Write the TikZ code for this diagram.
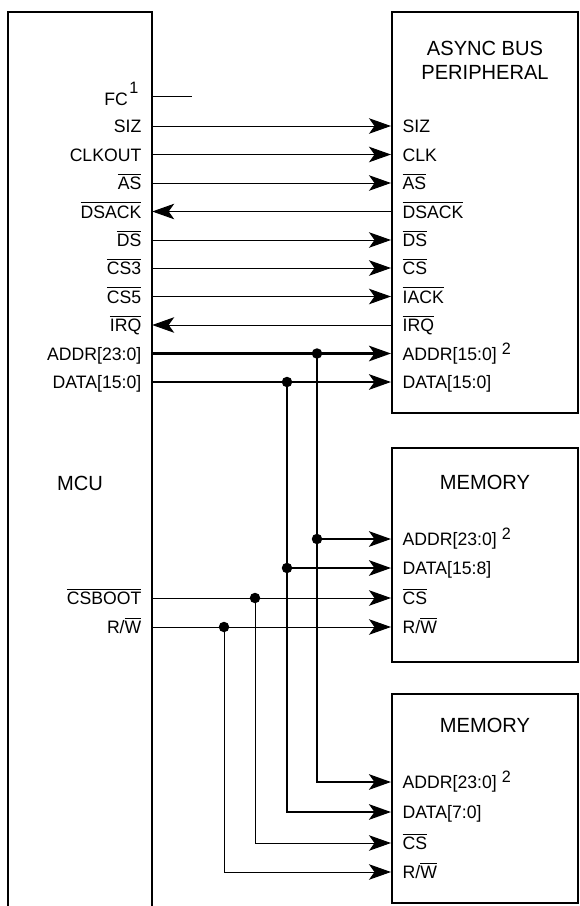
\documentclass[tikz,border=0pt]{standalone}
\usepackage{fontspec}
\setmainfont[FakeStretch=0.98]{Liberation Sans}
\usetikzlibrary{arrows.meta}
\newcommand\ovl[1]{\vbox{\hrule height 0.9pt\kern 2.4pt\hbox{#1}}}
\newcommand\supr[3]{\hspace{#1}\raisebox{#2}{\fontsize{16.5}{16.5}\selectfont #3}}
\tikzset{
  lbl/.style={font=\fontsize{18}{18}\selectfont, inner sep=1.5pt, text height=13pt, text depth=0pt},
  ttl/.style={font=\fontsize{20.5}{24}\selectfont, align=center, inner sep=0pt},
  box/.style={draw, line width=2pt, inner sep=0pt},
  sig/.style={line width=1pt},
  bus/.style={line width=2.6pt},
  arr/.style={-{Stealth[length=22pt,width=15.5pt,inset=5.5pt]}},
  dot/.style={circle, fill, inner sep=0pt, minimum size=10.5pt},
}
\begin{document}
\begin{tikzpicture}[x=1pt, y=-1pt]
\useasboundingbox (0,0) rectangle (579,906);
% boxes
\node[inner sep=0pt, minimum width=144pt, minimum height=894pt] (mcu) at (80,459) {};
\draw[line width=2pt] (mcu.south west) -- (mcu.north west) -- (mcu.north east) -- (mcu.south east);
\node[box, minimum width=186pt, minimum height=401pt] (per) at (485,212.5) {};
\node[box, minimum width=186pt, minimum height=214pt] (mem1) at (485,555) {};
\node[box, minimum width=186pt, minimum height=209pt] (mem2) at (485,798.5) {};
% titles
\node[ttl] (perT) at (485,60) {ASYNC BUS\\PERIPHERAL};
\node[ttl] (mem1T) at (485,482) {MEMORY};
\node[ttl] (mem2T) at (485,725) {MEMORY};
\node[ttl, anchor=west] (mcuT) at (57,483) {MCU};
% MCU pin labels
\node[lbl, anchor=east] (lFC) at (140,99) {FC\supr{1.5pt}{12pt}{1}};
\node[lbl, anchor=east] (lSIZ) at (143,126) {SIZ};
\node[lbl, anchor=east] (lCLK) at (143,154.5) {CLKOUT};
\node[lbl, anchor=east] (lAS) at (143,183) {\ovl{AS}};
\node[lbl, anchor=east] (lDSACK) at (143,211.5) {\ovl{DSACK}};
\node[lbl, anchor=east] (lDS) at (143,240) {\ovl{DS}};
\node[lbl, anchor=east] (lCS3) at (143,268) {\ovl{CS3}};
\node[lbl, anchor=east] (lCS5) at (143,296.5) {\ovl{CS5}};
\node[lbl, anchor=east] (lIRQ) at (143,325) {\ovl{IRQ}};
\node[lbl, anchor=east] (lADDR) at (143,353.5) {ADDR[23:0]};
\node[lbl, anchor=east] (lDATA) at (143,382) {DATA[15:0]};
\node[lbl, anchor=east] (lCSB) at (143,598) {\ovl{CSBOOT}};
\node[lbl, anchor=east] (lRW) at (143,627) {R/\ovl{W}};
% peripheral pin labels
\node[lbl, anchor=west] (pSIZ) at (401,126) {SIZ};
\node[lbl, anchor=west] (pCLK) at (401,154.5) {CLK};
\node[lbl, anchor=west] (pAS) at (401,183) {\ovl{AS}};
\node[lbl, anchor=west] (pDSACK) at (401,211.5) {\ovl{DSACK}};
\node[lbl, anchor=west] (pDS) at (401,240) {\ovl{DS}};
\node[lbl, anchor=west] (pCS) at (401,268) {\ovl{CS}};
\node[lbl, anchor=west] (pIACK) at (401,296.5) {\ovl{IACK}};
\node[lbl, anchor=west] (pIRQ) at (401,325) {\ovl{IRQ}};
\node[lbl, anchor=west] (pADDR) at (401,353.5) {ADDR[15:0]\supr{5pt}{6pt}{2}};
\node[lbl, anchor=west] (pDATA) at (401,382) {DATA[15:0]};
% memory 1 pin labels
\node[lbl, anchor=west] (m1ADDR) at (401,539) {ADDR[23:0]\supr{5pt}{6pt}{2}};
\node[lbl, anchor=west] (m1DATA) at (401,568) {DATA[15:8]};
\node[lbl, anchor=west] (m1CS) at (401,598) {\ovl{CS}};
\node[lbl, anchor=west] (m1RW) at (401,627) {R/\ovl{W}};
% memory 2 pin labels
\node[lbl, anchor=west] (m2ADDR) at (401,782) {ADDR[23:0]\supr{5pt}{6pt}{2}};
\node[lbl, anchor=west] (m2DATA) at (401,812) {DATA[7:0]};
\node[lbl, anchor=west] (m2CS) at (401,843) {\ovl{CS}};
\node[lbl, anchor=west] (m2RW) at (401,872) {R/\ovl{W}};
% FC stub
\coordinate (fcend) at (191.5,96);
\draw[sig] (mcu.east |- fcend) -- (fcend);
% single signals
\draw[sig,arr] (mcu.east |- lSIZ) -- (per.west |- pSIZ);
\draw[sig,arr] (mcu.east |- lCLK) -- (per.west |- pCLK);
\draw[sig,arr] (mcu.east |- lAS) -- (per.west |- pAS);
\draw[sig,arr] (per.west |- pDSACK) -- (mcu.east |- lDSACK);
\draw[sig,arr] (mcu.east |- lDS) -- (per.west |- pDS);
\draw[sig,arr] (mcu.east |- lCS3) -- (per.west |- pCS);
\draw[sig,arr] (mcu.east |- lCS5) -- (per.west |- pIACK);
\draw[sig,arr] (per.west |- pIRQ) -- (mcu.east |- lIRQ);
% buses
\coordinate (xA) at (317,0);
\coordinate (xD) at (287,0);
\coordinate (xC) at (255,0);
\coordinate (xR) at (224,0);
\draw[bus,arr] (mcu.east |- lADDR) -- (per.west |- pADDR);
\draw[bus,arr] (mcu.east |- lDATA) -- (per.west |- pDATA);
\node[dot] (dA1) at (xA |- lADDR) {};
\node[dot] (dA2) at (xA |- m1ADDR) {};
\node[dot] (dD1) at (xD |- lDATA) {};
\node[dot] (dD2) at (xD |- m1DATA) {};
\draw[bus,arr] (dA1.center) |- (mem2.west |- m2ADDR);
\draw[bus,arr] (dA2.center) -- (mem1.west |- m1ADDR);
\draw[bus,arr] (dD1.center) |- (mem2.west |- m2DATA);
\draw[bus,arr] (dD2.center) -- (mem1.west |- m1DATA);
% CSBOOT and R/W
\draw[sig,arr] (mcu.east |- lCSB) -- (mem1.west |- m1CS);
\draw[sig,arr] (mcu.east |- lRW) -- (mem1.west |- m1RW);
\node[dot] (dC) at (xC |- lCSB) {};
\node[dot] (dR) at (xR |- lRW) {};
\draw[sig,arr] (dC.center) |- (mem2.west |- m2CS);
\draw[sig,arr] (dR.center) |- (mem2.west |- m2RW);
\end{tikzpicture}
\end{document}
